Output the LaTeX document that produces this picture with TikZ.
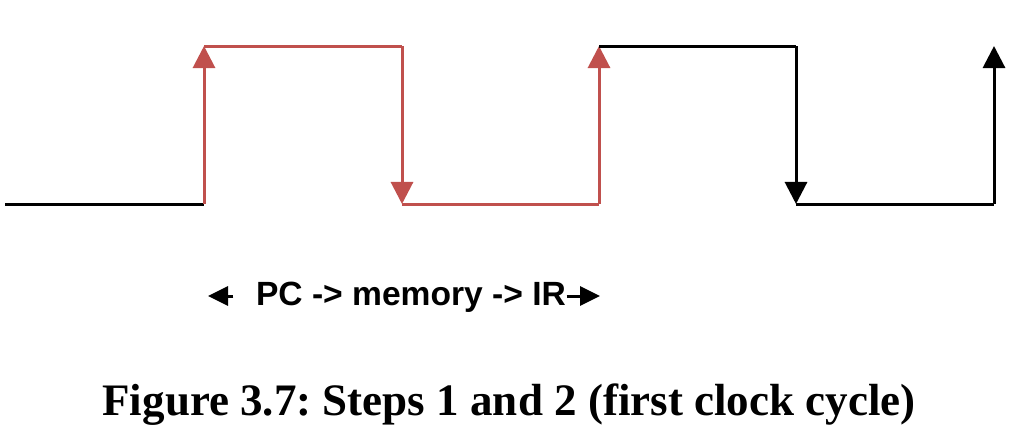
\documentclass[tikz,border=0pt]{standalone}
\usepackage{fontspec}
\setmainfont{Liberation Serif}
\setsansfont{Liberation Sans}
\usetikzlibrary{arrows.meta}
\definecolor{edgered}{HTML}{C0504D}
\frenchspacing

\begin{document}
\begin{tikzpicture}[x=0.01cm, y=-0.01cm]
            \useasboundingbox (0,0) rectangle (1016,442);
            \begin{scope}[
                    wave/.style={line width=0.03cm},
                    edgearrow/.style={wave, -{Triangle[width=0.22cm, length=0.22cm]}}
                ]

                \coordinate (lo0) at (5,204);
                \coordinate (lo1) at (204,204);
                \coordinate (hi1) at (204,46);
                \coordinate (hi2) at (402,46);
                \coordinate (lo2) at (402,204);
                \coordinate (lo3) at (599,204);
                \coordinate (hi3) at (599,46);
                \coordinate (hi4) at (796,46);
                \coordinate (lo4) at (796,204);
                \coordinate (lo5) at (994,204);
                \coordinate (hi5) at (994,46);

                \draw[wave] (lo0) -- (lo1);
                \draw[edgearrow, edgered] (lo1) -- (hi1);
                \draw[wave, edgered] (hi1) -- (hi2);
                \draw[edgearrow, edgered] (hi2) -- (lo2);
                \draw[wave, edgered] (lo2) -- (lo3);
                \draw[edgearrow, edgered] (lo3) -- (hi3);
                \draw[wave] (hi3) -- (hi4);
                \draw[edgearrow] (hi4) -- (lo4);
                \draw[wave] (lo4) -- (lo5);
                \draw[edgearrow] (lo5) -- (hi5);
            \end{scope}

            % span of the first cycle
            \node[anchor=base, inner sep=0pt, font=\sffamily\bfseries\fontsize{9.55}{11}\selectfont] (steps) at (411,305) {PC -> memory -> IR};
            \coordinate (lt) at (208,296);
            \coordinate (rt) at (600,296);
            \begin{scope}[spanarrow/.style={line width=0.03cm, -{Triangle[width=0.19cm, length=0.2cm]}}]
                \draw[spanarrow] ([xshift=-0.22cm]steps.west |- lt) -- (lt);
                \draw[spanarrow] (steps.east |- rt) -- (rt);
            \end{scope}

            \node[anchor=base, font=\bfseries\fontsize{12.8}{15}\selectfont] (caption) at (509,415) {Figure 3.7: Steps 1 and 2 (first clock cycle)};
        \end{tikzpicture}
\end{document}
